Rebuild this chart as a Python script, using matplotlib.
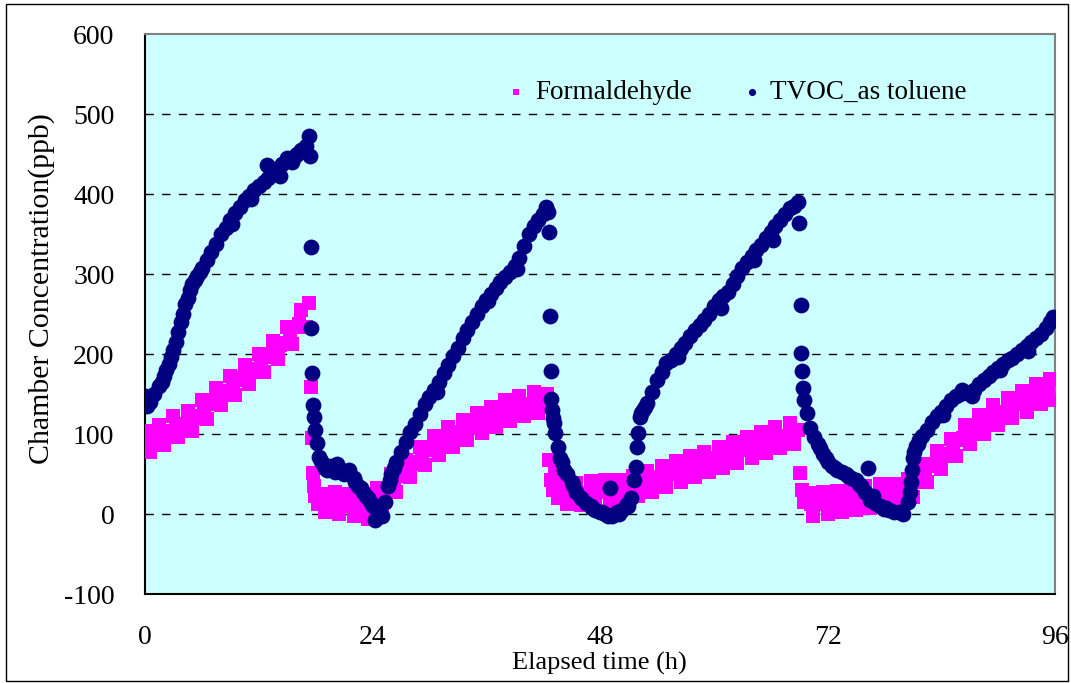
import matplotlib
matplotlib.use("Agg")
import matplotlib.pyplot as plt
import numpy as np
from matplotlib.patches import Rectangle

plt.rcParams['font.family'] = ['Liberation Serif', 'DejaVu Serif']
plt.rcParams['axes.unicode_minus'] = False

form_t1 = list(np.arange(0.0, 17.5, 0.5)) + [17.3]
form_v1 = [104, 78, 95, 111, 86, 104, 122, 96, 112, 129, 104, 123, 142, 119, 138, 158, 136, 154,
           172, 149, 168, 186, 162, 181, 200, 177, 196, 216, 194, 214, 234, 213, 234, 255, 234,
           264]
form_t2 = ([17.5, 17.6, 17.7, 17.8, 17.9, 18.2, 18.6, 19.0, 19.5, 20.0, 20.5, 21.0, 21.5, 22.0, 22.5]
           + list(np.arange(23.0, 42.5, 0.5)) + [42.4])
form_v2 = [159, 95, 51, 35, 22, 12, 25, 2, 15, 28, 0, 12, 25, -2, 10,
           19, -6, 12, 32, 10, 30, 50, 28, 48, 68, 46, 65, 84, 61, 80, 98, 74, 92, 109, 84,
           101, 118, 92, 109, 126, 101, 118, 134, 109, 125, 142, 116, 132, 148, 123, 138, 153,
           126, 140, 150]
form_t3 = [42.6, 42.8, 43.0, 43.3, 43.6] + list(np.arange(44.0, 69.0, 0.5)) + [68.9]
form_v3 = [68, 42, 30, 55, 20,
           42, 13, 25, 39, 11, 26, 41, 14, 28, 42, 14, 28, 42, 16, 32, 48, 22, 38, 54, 28,
           44, 60, 34, 50, 66, 40, 56, 72, 46, 62, 78, 52, 68, 84, 58, 74, 90, 64, 80, 96,
           70, 86, 102, 76, 93, 109, 83, 98, 114, 88, 105]
form_t4 = [69.1, 69.3, 69.5] + list(np.arange(70.0, 96.0, 0.5)) + [95.8]
form_v4 = [51, 30, 15,
           26, -2, 12, 27, 0, 14, 29, 2, 17, 32, 5, 20, 35, 8, 23, 38, 10, 24, 38, 10,
           25, 44, 21, 41, 62, 40, 60, 79, 56, 75, 94, 72, 92, 111, 88, 106, 124, 100, 118, 136,
           111, 128, 145, 120, 137, 154, 128, 145, 162, 137, 153, 169, 143]

# Formaldehyde readings in between (quarter past each hour), middle of the band
form_mid_t = (list(np.arange(0.25, 17.0, 1.0)) + list(np.arange(18.25, 23.0, 1.0))
              + list(np.arange(23.25, 42.0, 1.0)) + list(np.arange(44.25, 69.0, 1.0))
              + list(np.arange(70.25, 96.0, 1.0)))
form_mid_v = [91, 96, 102, 109, 113, 120, 130, 141, 152, 160, 170, 178, 188, 199, 211, 223, 237,
              15, 12, 14, 10, 8,
              6, 15, 27, 39, 51, 62, 72, 82, 90, 96, 102, 107, 113, 119, 124, 129, 133, 137, 139,
              27, 25, 25, 27, 28, 28, 29, 34, 38, 42, 46, 50, 54, 58, 62, 66, 70, 74, 78, 82,
              86, 90, 95, 98, 102,
              12, 12, 14, 16, 18, 20, 22, 23, 24, 24, 28, 40, 52, 63, 73, 84, 95, 105, 113, 120,
              127, 133, 138, 144, 149, 154]

# TVOC as toluene (ppb) vs elapsed time (h)
tvoc_t = [0.0, 0.25, 0.5, 1.0, 1.5, 2.0, 2.5, 3.0, 3.5, 4.0, 4.5, 5.0, 5.5, 6.0, 6.5, 7.0, 7.5,
          8.0, 8.5, 9.0, 9.5, 10.0, 10.5, 11.0, 11.5, 12.0, 12.5, 12.9, 13.0, 13.5, 14.0, 14.5,
          15.0, 15.5, 16.0, 16.5, 17.0, 17.3, 17.4,
          17.5, 17.55, 17.65, 17.75, 17.8, 17.9, 18.1, 18.4, 18.8, 19.2, 19.6, 20.0, 20.5, 21.0,
          21.5, 22.0, 22.5, 23.0, 23.5, 24.0, 24.3, 24.6, 25.0, 25.3, 25.6, 26.0, 26.5, 27.0, 27.5,
          28.0, 28.5, 29.0, 29.5, 30.0, 30.5, 31.0, 31.5, 32.0, 32.5, 33.0, 33.5, 34.0, 34.5, 35.0,
          35.5, 36.0, 36.5, 37.0, 37.5, 38.0, 38.5, 39.0, 39.5, 40.0, 40.5, 41.0, 41.5, 42.0, 42.3,
          42.5,
          42.6, 42.7, 42.8, 42.85, 42.9, 43.0, 43.1, 43.3, 43.6, 44.0, 44.5, 45.0, 45.5, 46.0, 46.5,
          47.0, 47.5, 48.0, 48.5, 49.0, 49.3, 49.8, 50.3, 50.8, 51.3, 51.6, 51.75, 51.9, 52.0, 52.2,
          52.5, 53.0, 53.5, 54.0, 54.5, 55.0, 55.5, 56.0, 56.5, 57.0, 57.5, 58.0, 58.5, 59.0, 59.5,
          60.0, 60.5, 61.0, 61.5, 62.0, 62.5, 63.0, 63.5, 64.0, 64.5, 65.0, 65.5, 66.0, 66.5, 67.0,
          67.5, 68.0, 68.5, 68.9,
          69.0, 69.15, 69.2, 69.3, 69.4, 69.55, 69.8, 70.2, 70.6, 71.0, 71.5, 72.0, 72.5, 73.0,
          73.5, 74.0, 74.5, 75.0, 75.5, 76.0, 76.3, 76.5, 77.0, 77.5, 78.0, 78.5, 79.0, 79.5, 80.0,
          80.5, 80.8, 81.0, 81.3, 81.7, 82.0, 82.5, 83.0, 83.5, 84.0, 84.5, 85.0, 85.5, 86.0, 86.5,
          87.0, 87.5, 88.0, 88.5, 89.0, 89.5, 90.0, 90.5, 91.0, 91.5, 92.0, 92.5, 93.0, 93.5, 94.0,
          94.5, 95.0, 95.5, 95.8]
tvoc_v = [148, 135, 140, 150, 160, 172, 188, 205, 228, 250, 270, 287, 297, 307, 318, 328, 338,
          350, 358, 368, 376, 384, 392, 398, 405, 410, 415, 436, 420, 428, 432, 438,
          445, 440, 450, 455, 460, 472, 448,
          334, 232, 176, 136, 121, 105, 89, 71, 62, 55, 60, 52, 58, 50,
          55, 45, 35, 28, 20, 10, -7, 5, -2, 15, 35, 50, 65, 78, 90,
          103, 112, 125, 138, 146, 155, 165, 176, 186, 197, 208, 220, 230, 240, 250,
          260, 268, 275, 283, 290, 296, 302, 310, 320, 335, 350, 360, 368, 375, 384,
          378,
          352, 247, 179, 144, 130, 120, 114, 101, 84, 65, 50, 40, 28, 20, 14,
          10, 5, 2, 0, 32, -3, 2, 5, 12, 20, 42, 59, 84, 101, 121,
          130, 139, 152, 167, 178, 189, 193, 200, 207, 214, 222, 230, 236, 242, 250,
          260, 268, 272, 278, 288, 298, 308, 315, 322, 330, 336, 345, 352, 360, 368,
          375, 382, 385, 390,
          364, 261, 201, 179, 157, 142, 126, 108, 96, 88, 75, 65, 60, 55,
          52, 50, 45, 42, 35, 28, 57, 18, 14, 10, 6, 5, 3, 2, 0,
          15, 40, 70, 85, 92, 98, 105, 115, 122, 128, 135, 142, 148, 150, 152,
          150, 155, 162, 168, 172, 178, 183, 188, 192, 195, 200, 205, 210, 215, 220,
          225, 232, 240, 246]

# extra TVOC readings on the steepest / noisiest stretches
tvoc_extra_t = [1.75, 2.25, 2.75, 3.25, 3.75, 4.25, 4.75, 5.25, 5.75, 18.6, 19.0, 20.3, 21.3,
                22.2, 22.8, 23.3, 23.8, 25.8, 26.25, 43.8, 44.2, 45.2, 47.2, 48.2, 48.8,
                50.0, 51.0, 52.35, 52.7, 71.2, 71.8, 72.8, 74.2, 75.3, 76.8, 78.2, 80.65,
                80.9, 81.15, 81.5, 86.2, 87.2, 9.2, 11.2, 14.2, 15.8, 30.8, 36.2, 39.2,
                56.2, 60.8, 64.2, 66.2, 84.2, 90.2, 93.2]
tvoc_extra_v = [165, 180, 196, 215, 240, 262, 280, 292, 302, 66, 58, 62, 52,
                40, 32, 22, 14, 42, 58, 70, 55, 36, 8, 3, -2,
                0, 10, 126, 134, 82, 70, 58, 48, 38, 22, 8, 28,
                55, 78, 88, 155, 148, 362, 394, 422, 448, 152, 266, 306,
                196, 258, 318, 342, 124, 180, 204]

xticks = [0, 24, 48, 72, 96]
yticks = [-100, 0, 100, 200, 300, 400, 500, 600]

fig = plt.figure(figsize=(10.71, 6.83), dpi=100)
ax = fig.add_axes([0.1354, 0.1303, 0.8497, 0.8199])
ax.set_facecolor('#CCFFFF')

form_t = form_t1 + form_t2 + form_t3 + form_t4 + form_mid_t
form_v = form_v1 + form_v2 + form_v3 + form_v4 + form_mid_v
ax.scatter(form_t, form_v, marker='s', s=115, color='#FF00FF', linewidths=0,
           label='Formaldehyde', zorder=3)
ax.scatter(tvoc_t + tvoc_extra_t, tvoc_v + tvoc_extra_v, marker='o', s=130,
           color='#000080', linewidths=0, label='TVOC_as toluene', zorder=4)

ax.set_xlim(0, 96)
ax.set_ylim(-100, 600)
ax.set_xticks(xticks)
ax.set_yticks(yticks)
ax.tick_params(length=0, labelsize=20)
ax.tick_params(axis='x', pad=22)
ax.tick_params(axis='y', pad=22)

for yv in yticks[1:-1]:
    ax.axhline(yv, color='black', linestyle=(0, (6, 6)), linewidth=1, zorder=1)

ax.spines['left'].set_color('black')
ax.spines['bottom'].set_color('black')
ax.spines['top'].set_color('#808080')
ax.spines['right'].set_color('#808080')
for sp in ax.spines.values():
    sp.set_linewidth(1.5)

fig.text(0.56, 0.029, 'Elapsed time (h)', ha='center', va='center', fontsize=19)
fig.text(0.039, 0.578, 'Chamber Concentration(ppb)', ha='center', va='center',
         rotation=90, fontsize=21.5)

leg = ax.legend(loc='upper right', bbox_to_anchor=(0.93, 0.962), ncol=2, frameon=False,
                fontsize=19.5, markerscale=0.45, handletextpad=0.1, columnspacing=1.6,
                handlelength=1.2)

fig.patches.append(Rectangle((0.006, 0.003), 0.991, 0.991, transform=fig.transFigure,
                             fill=False, edgecolor='black', linewidth=1))

fig.savefig('out.png', dpi=100)
